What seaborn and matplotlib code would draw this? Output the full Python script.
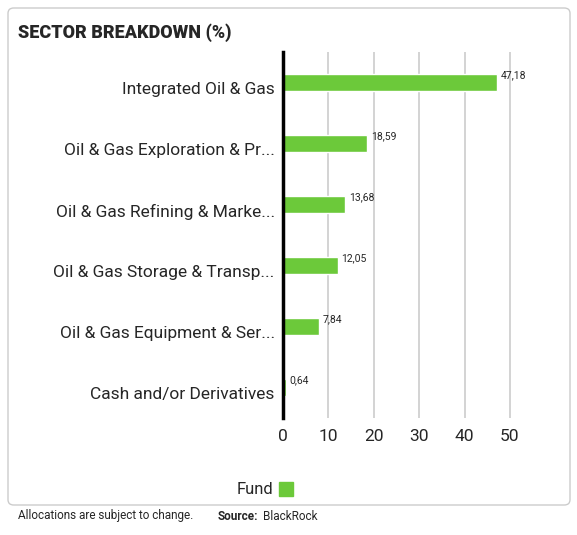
import matplotlib
matplotlib.use("Agg")
import matplotlib.pyplot as plt
import seaborn as sns
import pandas as pd
from matplotlib.patches import FancyBboxPatch

categories = ["Integrated Oil & Gas", "Oil & Gas Exploration & Pr...", "Oil & Gas Refining & Marke...",
              "Oil & Gas Storage & Transp...", "Oil & Gas Equipment & Ser...", "Cash and/or Derivatives"]
values = [47.18, 18.59, 13.68, 12.05, 7.84, 0.64]
labels = ["47,18", "18,59", "13,68", "12,05", "7,84", "0,64"]
xticks = [0, 10, 20, 30, 40, 50]
green = "#6cc93a"

sns.set_style("white")
plt.rcParams['font.family'] = ['Roboto', 'DejaVu Sans']
df = pd.DataFrame({"cat": categories, "val": values})

fig = plt.figure(figsize=(5.77, 5.35), dpi=100)
fig.patches.append(FancyBboxPatch((8/577, 30/535), 562/577, 497/535, boxstyle="round,pad=0,rounding_size=0.01",
                                  transform=fig.transFigure, fill=False, edgecolor="#cccccc", lw=1))
ax = fig.add_axes([283/577, 0.219, 236/577, 0.684])
sns.barplot(data=df, x="val", y="cat", color=green, width=0.28, ax=ax, saturation=1)
ax.set_xlim(0, 52)
ax.set_xticks(xticks)
ax.xaxis.grid(True, color="#cccccc", lw=1.2)
ax.set_axisbelow(True)
for s in ["top", "right", "bottom"]:
    ax.spines[s].set_visible(False)
ax.spines["left"].set_linewidth(2.5)
ax.spines["left"].set_color("black")
ax.tick_params(axis="y", length=0, labelsize=12.5, pad=6)
for t in ax.get_yticklabels():
    t.set_y(t.get_position()[1])
    t.set_va("top")
ax.tick_params(axis="x", length=0, labelsize=12.5, pad=8)
ax.set_xlabel(""); ax.set_ylabel("")
for i, (v, l) in enumerate(zip(values, labels)):
    ax.text(v + 0.8, i - 0.12, l, fontsize=7.5, va="center", ha="left")

fig.text(18/577, 1 - 33/535, "SECTOR BREAKDOWN (%)", fontsize=13, fontweight="black", va="center")
fig.text(273/577, 1 - 489/535, "Fund", fontsize=12, ha="right", va="center")
fig.patches.append(plt.Rectangle((279/577, 1 - 496/535), 14/577, 14/535, transform=fig.transFigure, color=green))
fig.text(18/577, 1 - 516/535, "Allocations are subject to change.", fontsize=8.5, va="center")
fig.text(218/577, 1 - 516/535, "Source:", fontsize=8.5, va="center", fontweight="bold")
fig.text(263/577, 1 - 516/535, "BlackRock", fontsize=8.5, va="center")
fig.savefig("out.png", dpi=100)
